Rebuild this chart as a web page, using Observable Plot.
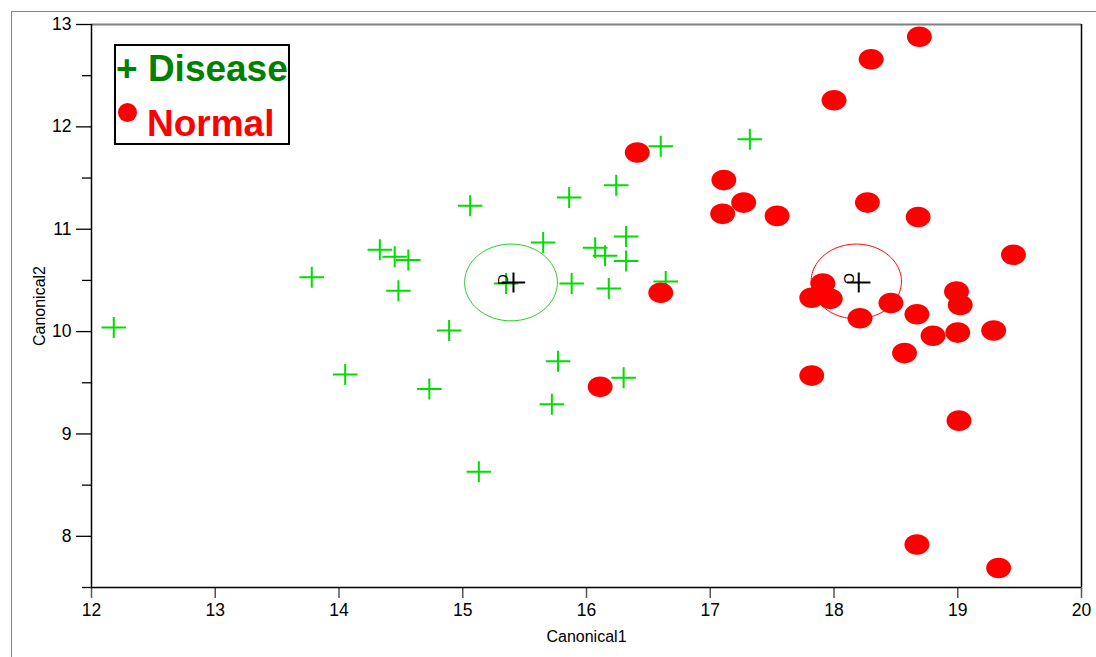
<!DOCTYPE html>
<html>
<head>
<meta charset="utf-8">
<script src="https://cdn.jsdelivr.net/npm/d3@7"></script>
<script src="https://cdn.jsdelivr.net/npm/@observablehq/plot@0.6"></script>
<style>
html, body { margin: 0; padding: 0; background: #fff; }
#wrap { position: relative; width: 1096px; height: 657px; overflow: hidden; font-family: "Liberation Sans", Arial, sans-serif; }
#wrap svg { position: absolute; left: 0; top: 0; }
#wrap svg text { font-size: 15px !important; font-variant: normal !important; }
#wrap svg g[aria-label="x-axis tick label"] text,
#wrap svg g[aria-label="y-axis tick label"] text { font-size: 17.5px !important; }
#wrap svg g[aria-label="x-axis label"] text,
#wrap svg g[aria-label="y-axis label"] text { font-size: 16px !important; }
#outer { position: absolute; left: 11px; top: 11px; width: 1100px; height: 660px; border-left: 1.5px solid #858585; border-top: 1.5px solid #858585; pointer-events: none; }
#legend { position: absolute; left: 114px; top: 44px; width: 172px; height: 97px; border: 2.5px solid #000; background: #fff; }
#legend .t { position: absolute; font-weight: bold; font-size: 37px; line-height: 37px; white-space: nowrap; }
#legend .dot { position: absolute; width: 19px; height: 19px; border-radius: 50%; background: #ff0000; }
</style>
</head>
<body>
<div id="wrap">
  <div id="outer"></div>
  <div id="legend">
    <div class="t" id="lg1" style="left:0px; top:3.5px; color:#008000;"></div>
    <div class="dot" style="left:1.5px; top:57px;"></div>
    <div class="t" id="lg2" style="left:31px; top:58.5px; color:#ff0000;"></div>
  </div>
</div>
<script>
// ---- data ----
const legendLabels = ["+ Disease", "Normal"];

const diseaseX = [12.18, 13.78, 14.33, 14.45, 14.56, 14.48, 15.06, 15.86, 16.24, 15.65,
                  16.07, 16.15, 16.32, 16.32, 15.88, 16.18, 16.64, 15.35, 14.89, 14.05,
                  14.73, 15.77, 16.30, 15.72, 15.13, 16.60, 17.32];
const diseaseY = [10.04, 10.53, 10.80, 10.73, 10.70, 10.40, 11.23, 11.31, 11.43, 10.87,
                  10.82, 10.74, 10.93, 10.69, 10.47, 10.42, 10.49, 10.47, 10.01, 9.58,
                  9.44, 9.71, 9.55, 9.29, 8.63, 11.81, 11.88];

const normalX = [18.69, 18.30, 18.00, 16.41, 17.11, 17.27, 17.10, 17.54, 18.27, 18.68,
                 19.45, 16.60, 17.91, 17.82, 17.97, 18.21, 18.46, 18.67, 18.99, 19.02,
                 18.80, 19.00, 19.29, 18.57, 17.82, 16.11, 19.01, 18.67, 19.33];
const normalY = [12.88, 12.66, 12.26, 11.75, 11.48, 11.26, 11.15, 11.13, 11.26, 11.12,
                 10.75, 10.38, 10.47, 10.33, 10.32, 10.13, 10.28, 10.17, 10.39, 10.26,
                 9.96, 9.99, 10.01, 9.79, 9.57, 9.46, 9.13, 7.92, 7.69];

const centroidName = ["D", "C"];
const centroidX = [15.41, 18.20];
const centroidY = [10.48, 10.48];
const ringX = [15.39, 18.18];
const ringY = [10.48, 10.49];
const ringR = [0.375, 0.365];

const xTicks = [12, 13, 14, 15, 16, 17, 18, 19, 20];
const yTicks = [8, 9, 10, 11, 12, 13];
const yMinorTicks = [7.5, 8.5, 9.5, 10.5, 11.5, 12.5];
const xLabel = "Canonical1";
const yLabel = "Canonical2";

// ---- tables ----
const disease = diseaseX.map((x, i) => ({x, y: diseaseY[i]}));
const normal = normalX.map((x, i) => ({x, y: normalY[i]}));
const centroids = centroidName.map((name, i) => ({name, x: centroidX[i], y: centroidY[i]}));
function ringPoints(i) {
  const pts = [];
  for (let k = 0; k <= 120; k++) {
    const a = (k / 120) * 2 * Math.PI;
    pts.push({x: ringX[i] + ringR[i] * Math.cos(a), y: ringY[i] + ringR[i] * Math.sin(a)});
  }
  return pts;
}

// ---- custom symbols ----
const plusSym = {
  draw(ctx, size) {
    const r = Math.sqrt(size / Math.PI);
    const w = r * 1.17;
    ctx.moveTo(-w, 0); ctx.lineTo(w, 0);
    ctx.moveTo(0, -r); ctx.lineTo(0, r);
  }
};
const ellipseSym = {
  draw(ctx, size) {
    const r = Math.sqrt(size / Math.PI);
    const rx = r * 1.21, ry = r, k = 0.5523;
    ctx.moveTo(rx, 0);
    ctx.bezierCurveTo(rx, ry * k, rx * k, ry, 0, ry);
    ctx.bezierCurveTo(-rx * k, ry, -rx, ry * k, -rx, 0);
    ctx.bezierCurveTo(-rx, -ry * k, -rx * k, -ry, 0, -ry);
    ctx.bezierCurveTo(rx * k, -ry, rx, -ry * k, rx, 0);
    ctx.closePath();
  }
};

document.getElementById("lg1").textContent = legendLabels[0];
document.getElementById("lg2").textContent = legendLabels[1];

const fmt = d => String(d);

const chart = Plot.plot({
  width: 1096,
  height: 657,
  marginLeft: 91,
  marginRight: 15,
  marginTop: 24,
  marginBottom: 70,
  style: {background: "transparent", fontFamily: "'Liberation Sans', Arial, sans-serif", fontSize: "15px", color: "#000"},
  x: {domain: [12, 20]},
  y: {domain: [7.5, 13]},
  marks: [
    Plot.ruleY([13], {stroke: "#808080", strokeWidth: 2}),
    Plot.ruleX([20], {stroke: "#000", strokeWidth: 1.5}),
    Plot.axisY(yMinorTicks, {tickSize: 9, tickFormat: () => "", stroke: "#000", strokeWidth: 1.3, label: null}),
    Plot.axisY(yTicks, {tickSize: 15, tickPadding: 5, tickFormat: fmt, stroke: "#000", strokeWidth: 1.3, fill: "#000",
      label: yLabel, labelAnchor: "center", labelArrow: "none", labelOffset: 58}),
    Plot.axisX(xTicks, {tickSize: 11, tickPadding: 5, tickFormat: fmt, stroke: "#555", strokeWidth: 1.5, fill: "#000",
      label: xLabel, labelAnchor: "center", labelArrow: "none", labelOffset: 54}),
    Plot.ruleX([12], {stroke: "#000", strokeWidth: 1.5}),
    Plot.ruleY([7.5], {stroke: "#000", strokeWidth: 1.5}),
    Plot.dot(disease, {x: "x", y: "y", symbol: plusSym, r: 10.5, fill: "none", stroke: "#00dd00", strokeWidth: 2}),
    Plot.dot(normal, {x: "x", y: "y", symbol: ellipseSym, r: 10.3, fill: "#ff0000", stroke: "none"}),
    Plot.line(ringPoints(0), {x: "x", y: "y", stroke: "#22cc22", strokeWidth: 1, curve: "linear"}),
    Plot.line(ringPoints(1), {x: "x", y: "y", stroke: "#ff0000", strokeWidth: 1, curve: "linear"}),
    Plot.dot(centroids, {x: "x", y: "y", symbol: plusSym, r: 10, fill: "none", stroke: "#000", strokeWidth: 2}),
    Plot.text(centroids.filter(d => d.name === "D"), {x: "x", y: "y", text: "name", rotate: -90, dx: -10, dy: -3, fill: "#000"}),
    Plot.text(centroids.filter(d => d.name === "C"), {x: "x", y: "y", text: "name", rotate: 90, dx: -10, dy: -4, fill: "#000"})
  ]
});
document.getElementById("wrap").prepend(chart);
</script>
</body>
</html>
